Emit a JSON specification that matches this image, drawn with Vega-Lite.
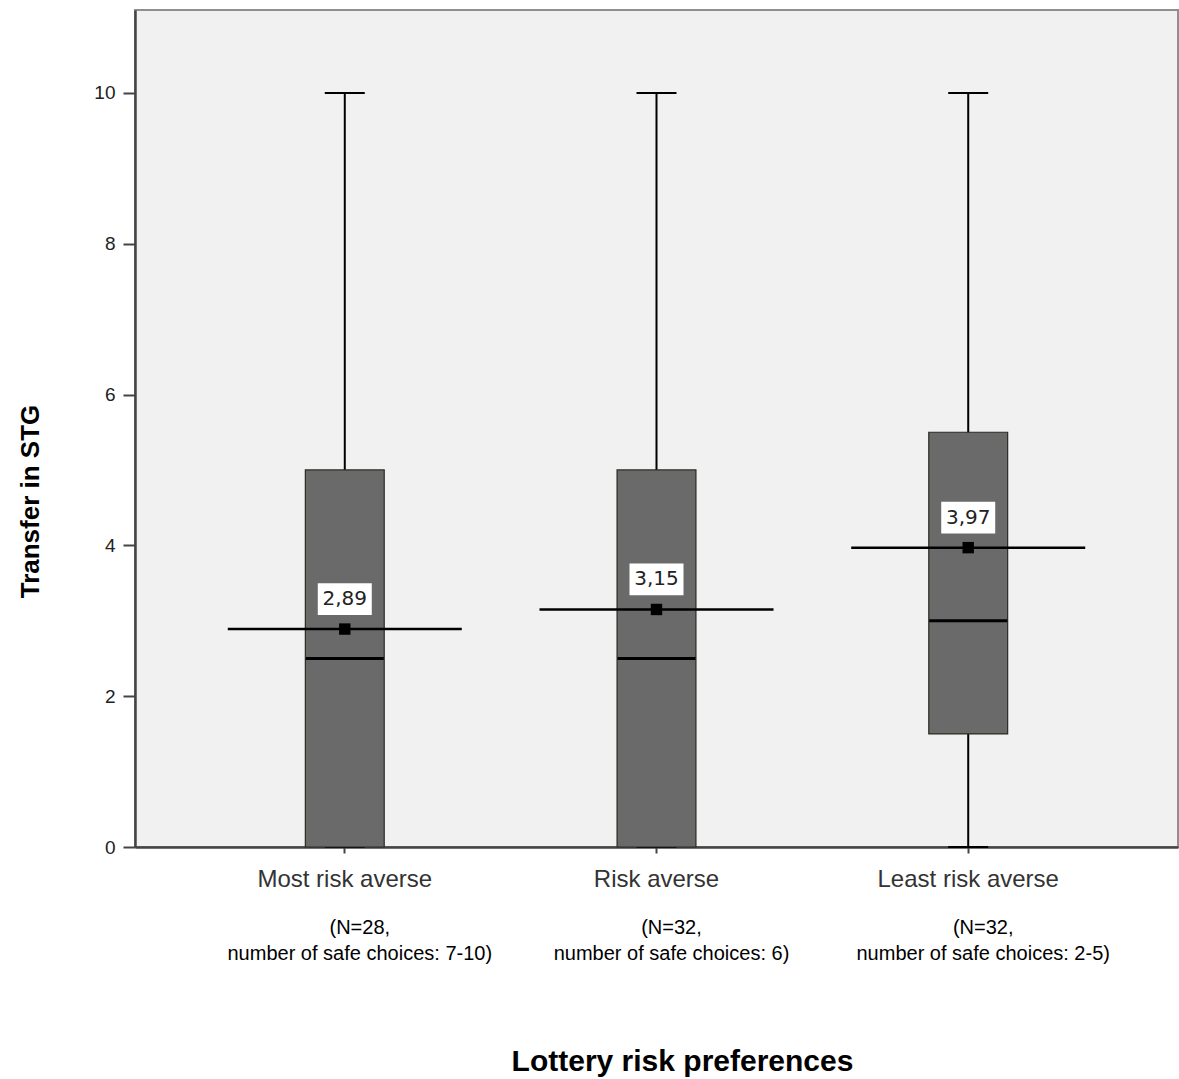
{
  "$schema": "https://vega.github.io/schema/vega-lite/v6.json",
  "width": 1043,
  "height": 837,
  "autosize": "none",
  "padding": {"left": 135, "top": 10, "right": 1, "bottom": 232},
  "background": "white",
  "config": {
    "view": {"fill": "#f0f1f0", "stroke": "#8f8f8f", "strokeWidth": 2}
  },
  "data": {
    "values": [
      {"group": "Most risk averse", "lo": 0, "q1": 0, "med": 2.5, "q3": 5, "hi": 10, "mean": 2.89, "label": "2,89", "sub": "(N=28,\n number of safe choices: 7-10)"},
      {"group": "Risk averse", "lo": 0, "q1": 0, "med": 2.5, "q3": 5, "hi": 10, "mean": 3.15, "label": "3,15", "sub": "(N=32,\n number of safe choices: 6)"},
      {"group": "Least risk averse", "lo": 0, "q1": 1.5, "med": 3, "q3": 5.5, "hi": 10, "mean": 3.97, "label": "3,97", "sub": "(N=32,\n number of safe choices: 2-5)"}
    ]
  },
  "encoding": {
    "x": {
      "field": "group",
      "type": "nominal",
      "sort": ["Most risk averse", "Risk averse", "Least risk averse"],
      "scale": {"paddingInner": 0, "paddingOuter": 0.173},
      "axis": {
        "title": "Lottery risk preferences",
        "titleFont": "Liberation Sans",
        "titleFontSize": 30,
        "titleFontWeight": "bold",
        "titleColor": "black",
        "titleBaseline": "middle",
        "titleAlign": "center",
        "titleX": 547,
        "titleY": 214,
        "labelAngle": 0,
        "labelLimit": 0,
        "labelFont": "Liberation Sans",
        "labelFontSize": 24,
        "labelColor": "#333",
        "labelPadding": 14,
        "tickSize": 6,
        "tickColor": "#444",
        "tickWidth": 2,
        "domainColor": "#444",
        "domainWidth": 2.5
      }
    }
  },
  "layer": [
    {
      "mark": {"type": "rule", "color": "black", "strokeWidth": 2},
      "encoding": {
        "y": {
          "field": "lo",
          "type": "quantitative",
          "scale": {"domain": [0, 11.1], "nice": false, "zero": true},
          "axis": {
            "title": "Transfer in STG",
            "titleFont": "Liberation Sans",
            "titleFontSize": 26,
            "titleFontWeight": "bold",
            "titleColor": "black",
            "titleAngle": -90,
            "titleBaseline": "middle",
            "titleX": -105,
            "titleY": 491,
            "values": [0, 2, 4, 6, 8, 10],
            "format": "d",
            "grid": false,
            "labelFont": "Liberation Sans",
            "labelFontSize": 19,
            "labelColor": "#222",
            "labelPadding": 8,
            "tickSize": 12,
            "tickColor": "#444",
            "tickWidth": 2,
            "domainColor": "#444",
            "domainWidth": 2.5
          }
        },
        "y2": {"field": "hi"}
      }
    },
    {
      "mark": {"type": "tick", "color": "black", "opacity": 1, "size": 40, "thickness": 2},
      "encoding": {"y": {"field": "hi", "type": "quantitative"}}
    },
    {
      "mark": {"type": "tick", "color": "black", "opacity": 1, "size": 40, "thickness": 2},
      "encoding": {"y": {"field": "lo", "type": "quantitative"}}
    },
    {
      "mark": {"type": "bar", "fill": "#6a6a6a", "opacity": 1, "stroke": "#2b2b22", "strokeWidth": 1.2, "width": {"band": 0.253}},
      "encoding": {
        "y": {"field": "q1", "type": "quantitative"},
        "y2": {"field": "q3"}
      }
    },
    {
      "mark": {"type": "tick", "color": "black", "opacity": 1, "size": 78, "thickness": 3},
      "encoding": {"y": {"field": "med", "type": "quantitative"}}
    },
    {
      "mark": {"type": "tick", "color": "black", "opacity": 1, "size": 234, "thickness": 2.5},
      "encoding": {"y": {"field": "mean", "type": "quantitative"}}
    },
    {
      "mark": {"type": "point", "shape": "square", "filled": true, "color": "black", "size": 130, "opacity": 1},
      "encoding": {"y": {"field": "mean", "type": "quantitative"}}
    },
    {
      "mark": {"type": "point", "shape": "M-0.9,-0.53L0.9,-0.53L0.9,0.53L-0.9,0.53Z", "filled": true, "color": "white", "size": 3600, "opacity": 1, "yOffset": -30},
      "encoding": {"y": {"field": "mean", "type": "quantitative"}}
    },
    {
      "mark": {"type": "text", "font": "DejaVu Sans", "fontSize": 20, "color": "#222", "align": "center", "baseline": "middle", "yOffset": -30},
      "encoding": {
        "y": {"field": "mean", "type": "quantitative"},
        "text": {"field": "label"}
      }
    },
    {
      "mark": {"type": "text", "font": "Liberation Sans", "fontSize": 20, "color": "black", "align": "center", "baseline": "top", "lineBreak": "\n", "lineHeight": 26, "yOffset": 71, "xOffset": 15},
      "encoding": {
        "y": {"datum": 0},
        "text": {"field": "sub"}
      }
    }
  ]
}
